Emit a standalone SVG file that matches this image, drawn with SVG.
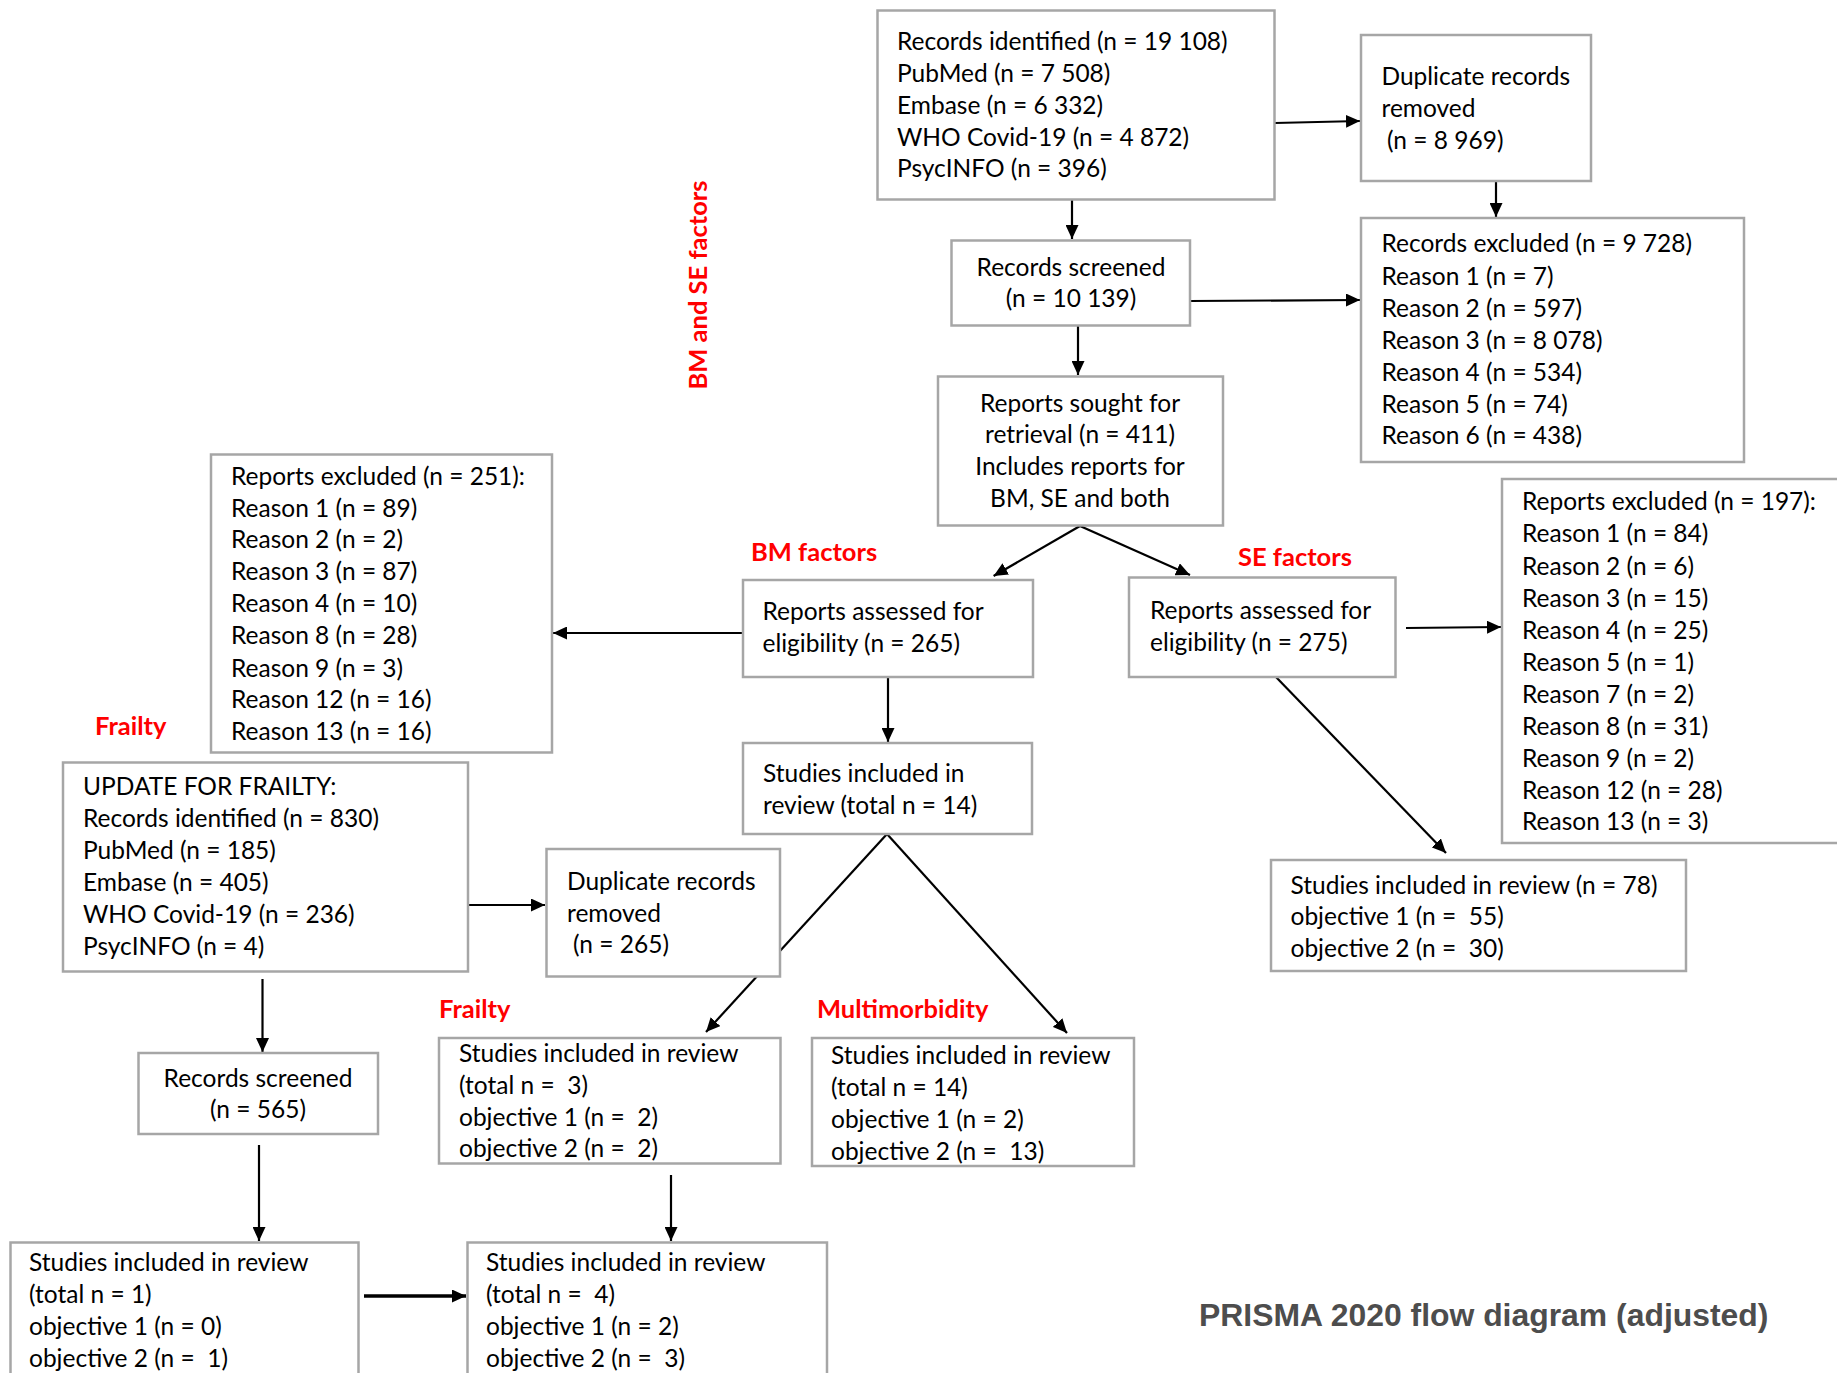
<svg xmlns="http://www.w3.org/2000/svg" width="1837" height="1373" viewBox="0 0 1837 1373">
<defs>
<style>
.box{fill:#fff;stroke:#A6A6A6;stroke-width:2.5}
.t{font-family:Lato,"Liberation Sans",sans-serif;font-size:24.5px;fill:#000}
.c{text-anchor:middle}
.red{font-family:Lato,"Liberation Sans",sans-serif;font-weight:bold;font-size:25.5px;fill:#FF0000}
.ln{stroke:#000;stroke-width:2.2;fill:none;marker-end:url(#ah)}
.title{font-family:"Liberation Sans",Arial,sans-serif;font-weight:bold;font-size:31.9px;fill:#4D4D4D}
</style>
<marker id="ah" markerUnits="userSpaceOnUse" markerWidth="15" markerHeight="13" refX="14" refY="6.5" orient="auto" viewBox="0 0 15 13">
<path d="M0,0 L14,6.5 L0,13 z" fill="#000"/>
</marker>
</defs>
<rect width="1837" height="1373" fill="#fff"/>
<g id="connectors">
<line class="ln" x1="1275" y1="123" x2="1360" y2="121"/>
<line class="ln" x1="1496" y1="181" x2="1496" y2="217"/>
<line class="ln" x1="1072" y1="200" x2="1072" y2="239"/>
<line class="ln" x1="1190" y1="301" x2="1360" y2="300"/>
<line class="ln" x1="1078" y1="326" x2="1078" y2="375"/>
<line class="ln" x1="1080" y1="526" x2="993.6" y2="576"/>
<line class="ln" x1="1080" y1="526" x2="1190" y2="575"/>
<line class="ln" x1="743" y1="633" x2="553" y2="633"/>
<line class="ln" x1="1406" y1="628" x2="1501" y2="627"/>
<line class="ln" x1="1275" y1="676" x2="1446" y2="853"/>
<line class="ln" x1="888" y1="677" x2="888" y2="742"/>
<line class="ln" x1="887" y1="834" x2="706" y2="1032"/>
<line class="ln" x1="887" y1="834" x2="1067" y2="1033"/>
<line class="ln" x1="468" y1="905" x2="545" y2="905"/>
<line class="ln" x1="262.5" y1="979" x2="262.5" y2="1052"/>
<line class="ln" x1="259" y1="1145" x2="259" y2="1241"/>
<line class="ln" x1="671" y1="1175" x2="671" y2="1241"/>
<line class="ln" x1="364" y1="1296" x2="466" y2="1296" style="stroke-width:3.5"/>
</g>
<g id="labels">
<text class="red" transform="translate(707,285) rotate(-90)" text-anchor="middle">BM and SE factors</text>
<text class="red" x="751" y="561">BM factors</text>
<text class="red" x="1238" y="566">SE factors</text>
<text class="red" x="95" y="735">Frailty</text>
<text class="red" x="439" y="1018">Frailty</text>
<text class="red" x="817" y="1018">Multimorbidity</text>
<text class="title" x="1199" y="1326">PRISMA 2020 flow diagram (adjusted)</text>
</g>
<g id="node-records-identified">
<rect class="box" x="877.5" y="10.5" width="397" height="189"/>
<text class="t" x="897" y="50">Records identified (n = 19 108)</text>
<text class="t" x="897" y="82">PubMed (n = 7 508)</text>
<text class="t" x="897" y="114">Embase (n = 6 332)</text>
<text class="t" x="897" y="145.5">WHO Covid-19 (n = 4 872)</text>
<text class="t" x="897" y="177">PsycINFO (n = 396)</text>
</g>
<g id="node-duplicates">
<rect class="box" x="1361" y="35" width="230" height="146"/>
<text class="t" x="1381.5" y="85">Duplicate records</text>
<text class="t" x="1381.5" y="116.5">removed</text>
<text class="t" x="1387" y="149">(n = 8 969)</text>
</g>
<g id="node-records-excluded">
<rect class="box" x="1361" y="218" width="383" height="244"/>
<text class="t" x="1381.5" y="252">Records excluded (n = 9 728)</text>
<text class="t" x="1381.5" y="285">Reason 1 (n = 7)</text>
<text class="t" x="1381.5" y="316.5">Reason 2 (n = 597)</text>
<text class="t" x="1381.5" y="348.5">Reason 3 (n = 8 078)</text>
<text class="t" x="1381.5" y="380.7">Reason 4 (n = 534)</text>
<text class="t" x="1381.5" y="412.7">Reason 5 (n = 74)</text>
<text class="t" x="1381.5" y="444.3">Reason 6 (n = 438)</text>
</g>
<g id="node-records-screened">
<rect class="box" x="951.5" y="240.5" width="238.5" height="85"/>
<text class="t c" x="1071" y="276">Records screened</text>
<text class="t c" x="1071" y="307">(n = 10 139)</text>
</g>
<g id="node-reports-sought">
<rect class="box" x="938" y="376.5" width="285" height="149"/>
<text class="t c" x="1080" y="411.7">Reports sought for</text>
<text class="t c" x="1080" y="443">retrieval (n = 411)</text>
<text class="t c" x="1080" y="475">Includes reports for</text>
<text class="t c" x="1080" y="507">BM, SE and both</text>
</g>
<g id="node-bm-excluded">
<rect class="box" x="211" y="454.5" width="341" height="298"/>
<text class="t" x="231" y="485">Reports excluded (n = 251):</text>
<text class="t" x="231" y="516.7">Reason 1 (n = 89)</text>
<text class="t" x="231" y="548">Reason 2 (n = 2)</text>
<text class="t" x="231" y="580">Reason 3 (n = 87)</text>
<text class="t" x="231" y="612">Reason 4 (n = 10)</text>
<text class="t" x="231" y="644">Reason 8 (n = 28)</text>
<text class="t" x="231" y="676.7">Reason 9 (n = 3)</text>
<text class="t" x="231" y="708">Reason 12 (n = 16)</text>
<text class="t" x="231" y="740">Reason 13 (n = 16)</text>
</g>
<g id="node-bm-assessed">
<rect class="box" x="743" y="580" width="290" height="97"/>
<text class="t" x="762.5" y="620">Reports assessed for</text>
<text class="t" x="762.5" y="651.7">eligibility (n = 265)</text>
</g>
<g id="node-se-assessed">
<rect class="box" x="1129" y="577.5" width="266.5" height="99.5"/>
<text class="t" x="1150" y="619">Reports assessed for</text>
<text class="t" x="1150" y="651">eligibility (n = 275)</text>
</g>
<g id="node-se-excluded">
<rect class="box" x="1502" y="479" width="345" height="364"/>
<text class="t" x="1522" y="510">Reports excluded (n = 197):</text>
<text class="t" x="1522" y="542">Reason 1 (n = 84)</text>
<text class="t" x="1522" y="574.5">Reason 2 (n = 6)</text>
<text class="t" x="1522" y="606.5">Reason 3 (n = 15)</text>
<text class="t" x="1522" y="638.5">Reason 4 (n = 25)</text>
<text class="t" x="1522" y="670.5">Reason 5 (n = 1)</text>
<text class="t" x="1522" y="702.5">Reason 7 (n = 2)</text>
<text class="t" x="1522" y="734.5">Reason 8 (n = 31)</text>
<text class="t" x="1522" y="766.5">Reason 9 (n = 2)</text>
<text class="t" x="1522" y="798.5">Reason 12 (n = 28)</text>
<text class="t" x="1522" y="830">Reason 13 (n = 3)</text>
</g>
<g id="node-se-included">
<rect class="box" x="1271" y="860" width="415" height="111"/>
<text class="t" x="1290.5" y="893.5">Studies included in review (n = 78)</text>
<text class="t" x="1290.5" y="925" xml:space="preserve">objective 1 (n =  55)</text>
<text class="t" x="1290.5" y="957" xml:space="preserve">objective 2 (n =  30)</text>
</g>
<g id="node-bm-included">
<rect class="box" x="743" y="743" width="289" height="91"/>
<text class="t" x="763" y="781.5">Studies included in</text>
<text class="t" x="763" y="813.5">review (total n = 14)</text>
</g>
<g id="node-frailty-duplicates">
<rect class="box" x="546.5" y="849" width="233.5" height="127.5"/>
<text class="t" x="567" y="890">Duplicate records</text>
<text class="t" x="567" y="921.7">removed</text>
<text class="t" x="573" y="953">(n = 265)</text>
</g>
<g id="node-frailty-update">
<rect class="box" x="63" y="762.5" width="405" height="209"/>
<text class="t" x="83" y="795">UPDATE FOR FRAILTY:</text>
<text class="t" x="83" y="827">Records identified (n = 830)</text>
<text class="t" x="83" y="859">PubMed (n = 185)</text>
<text class="t" x="83" y="891">Embase (n = 405)</text>
<text class="t" x="83" y="922.7">WHO Covid-19 (n = 236)</text>
<text class="t" x="83" y="955">PsycINFO (n = 4)</text>
</g>
<g id="node-frailty-included">
<rect class="box" x="439" y="1038" width="341.5" height="125.5"/>
<text class="t" x="459" y="1061.7">Studies included in review</text>
<text class="t" x="459" y="1093.5" xml:space="preserve">(total n =  3)</text>
<text class="t" x="459" y="1125.5" xml:space="preserve">objective 1 (n =  2)</text>
<text class="t" x="459" y="1157" xml:space="preserve">objective 2 (n =  2)</text>
</g>
<g id="node-mm-included">
<rect class="box" x="812" y="1038" width="322" height="128"/>
<text class="t" x="831" y="1064">Studies included in review</text>
<text class="t" x="831" y="1095.5">(total n = 14)</text>
<text class="t" x="831" y="1128">objective 1 (n = 2)</text>
<text class="t" x="831" y="1160" xml:space="preserve">objective 2 (n =  13)</text>
</g>
<g id="node-frailty-screened">
<rect class="box" x="138.5" y="1053" width="239.5" height="81"/>
<text class="t c" x="258" y="1087">Records screened</text>
<text class="t c" x="258" y="1118">(n = 565)</text>
</g>
<g id="node-frailty-update-included">
<rect class="box" x="10.5" y="1242.5" width="348" height="140"/>
<text class="t" x="29" y="1270.5">Studies included in review</text>
<text class="t" x="29" y="1302.5">(total n = 1)</text>
<text class="t" x="29" y="1334.5">objective 1 (n = 0)</text>
<text class="t" x="29" y="1366.5" xml:space="preserve">objective 2 (n =  1)</text>
</g>
<g id="node-frailty-total">
<rect class="box" x="467.5" y="1242.5" width="359.5" height="140"/>
<text class="t" x="486" y="1270.5">Studies included in review</text>
<text class="t" x="486" y="1302.5" xml:space="preserve">(total n =  4)</text>
<text class="t" x="486" y="1334.5">objective 1 (n = 2)</text>
<text class="t" x="486" y="1366.5" xml:space="preserve">objective 2 (n =  3)</text>
</g>
</svg>
